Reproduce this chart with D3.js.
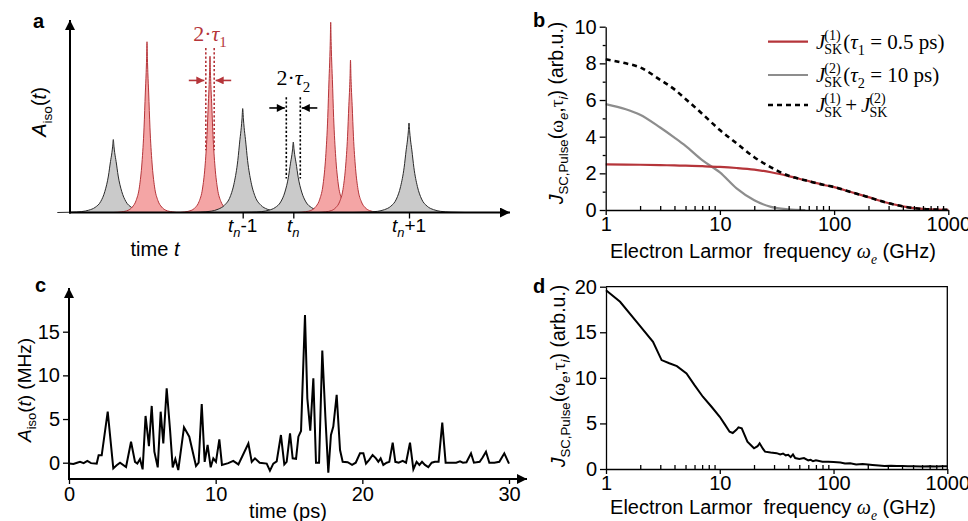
<!DOCTYPE html>
<html lang="en">
<head>
<meta charset="UTF-8">
<script src="https://cdnjs.cloudflare.com/ajax/libs/d3/7.8.5/d3.min.js"></script>
<style>
  body { margin: 0; background: #fff; }
  svg { font-family: "Liberation Sans", Arial, sans-serif; }
  .axis path, .axis line { stroke: #000; stroke-width: 1.3; }
  .axis text { font-size: 20px; fill: #000; font-family: "Liberation Sans", Arial, sans-serif; }
</style>
</head>
<body>
<svg id="fig" width="968" height="521"></svg>
<script>
// ---------- panel a : schematic pulses
const aPeakT    = [43.3, 77, 140, 172.7, 223.3, 260.7, 280.5, 339];
const aPeakH    = [3.79, 8.87, 8.12, 5.4, 3.66, 9.88, 7.92, 4.65];
const aPeakFast = [false, true, true, false, false, true, true, false];
// pulse shape: distance from centre (in tau) -> relative height
const aProfileD = [0, 0.1, 0.2, 0.4, 0.7, 1.2, 1.8, 2.6, 3.5, 4.5, 6, 8];
const aProfileR = [1, 0.9, 0.82, 0.7, 0.5, 0.29, 0.15, 0.07, 0.032, 0.013, 0.004, 0];
const aTickT    = [172.7, 223.3, 339];
const aTickSuf  = ["-1", "", "+1"];
const tauFast = 4.2, tauSlow = 7;

// ---------- panel b : spectral densities
const bFreq  = [1, 1.5, 2, 3, 4, 5, 7, 10, 14, 20, 28, 40, 56, 80, 100, 140, 200, 280, 400, 560, 800, 1000];
const bJ1    = [2.49, 2.48, 2.47, 2.45, 2.43, 2.42, 2.39, 2.35, 2.29, 2.2, 2.06, 1.85, 1.62, 1.38, 1.25, 0.98, 0.7, 0.42, 0.2, 0.07, 0.02, 0.01];
const bFreq2 = [1, 1.5, 2, 3, 4, 5, 7, 10, 14, 20, 28, 40, 56];
const bJ2    = [5.78, 5.5, 5.2, 4.5, 3.95, 3.5, 2.72, 2.05, 1.18, 0.53, 0.17, 0.04, 0.0];
const bSum   = [8.22, 8.0, 7.78, 7.1, 6.58, 6.06, 5.25, 4.36, 3.64, 2.88, 2.33, 1.87, 1.62, 1.38, 1.25, 0.98, 0.7, 0.42, 0.2, 0.07, 0.02, 0.01];

// ---------- panel c : A_iso(t) trajectory
const cTime = [0, 0.3, 0.55, 0.75, 1.0, 1.25, 1.5, 1.89, 2.02, 2.23, 2.64, 3.02, 3.25, 3.48, 3.89, 4.23, 4.5, 4.66, 4.84, 5.02,
  5.22, 5.45, 5.64, 5.82, 6.05, 6.25, 6.43, 6.66, 6.89, 7.07, 7.25, 7.45, 7.84, 8.2, 8.66, 8.84, 9.05, 9.25, 9.45, 9.66,
  9.84, 10.02, 10.25, 10.43, 10.86, 11.2, 11.55, 12.23, 12.46, 12.68, 13.0, 13.48, 13.7, 13.93, 14.16, 14.45, 14.68, 14.84, 15.07, 15.25,
  15.48, 15.64, 15.82, 16.09, 16.25, 16.45, 16.66, 16.84, 17.05, 17.27, 17.48, 17.68, 17.86, 18.02, 18.25, 18.48, 18.66, 19.0, 19.3, 19.55,
  19.84, 20.07, 20.25, 20.48, 20.7, 20.93, 21.09, 21.25, 21.43, 21.66, 21.84, 22.07, 22.25, 22.48, 22.75, 22.98, 23.25, 23.48, 23.7, 23.89,
  24.07, 24.27, 24.5, 24.73, 24.95, 25.2, 25.45, 25.68, 26.0, 26.4, 26.66, 26.86, 27.1, 27.41, 27.61, 28.0, 28.2, 28.43, 28.66, 29.0,
  29.34, 29.68, 30.0];
const cAmp = [-0.1, -0.15, 0.0, 0.1, -0.05, 0.2, -0.05, -0.1, 0.85, 0.85, 5.84, -0.65, -0.3, 0, -0.5, 2.4, 0.1, -0.1, 0.42, -0.76,
  5.35, 1.9, 6.5, 1.26, -0.53, 5.84, 2.2, 8.52, 3.75, -0.53, 0.42, -0.84, 4.05, 2.98, -0.38, 0, 6.72, 0.1, 2.03, -0.53,
  0.5, 0.1, 2.68, -0.26, -0.05, 0.2, -0.2, 2.2, 0.1, 0.5, 0, -0.1, -0.9, -0.1, 0.15, 3.17, -0.2, 0.1, 3.37, 0.5,
  0.45, 2.98, 3.63, 16.9, 7.37, 3.67, 9.66, 0, 0, 12.83, 5.27, -1.14, 3.17, 4.13, 7.76, 1.45, 0.1, 0.05, -0.25, 0,
  1.07, 1.07, -0.1, 0.35, 0.88, 0.5, 0.1, 0.5, -0.25, 0, 0.1, 2.29, 0.1, 0, 0.2, 0, 2.29, -0.76, 0.1, -0.25,
  0.1, -0.25, -0.5, 0, 0.1, 0.1, 4.58, 0, 0, 0, 0.15, 0, 0.05, 1.07, 0, 0.1, 0.6, 1.26, 0, 0,
  0.1, 1.07, -0.1];

// ---------- panel d : spectral density from the trajectory
const dFreq = [1, 1.33, 1.86, 2.59, 3.08, 3.6, 4.2, 5.1, 6, 7.1, 8.5, 10, 11, 12.2, 13, 14, 14.6, 15.6, 17.5, 19,
  20, 21.5, 22.4, 24, 25, 28, 31.6, 34, 36, 38, 40, 42, 44, 46, 50, 55, 60, 63, 66, 70,
  80, 90, 100, 115, 126, 140, 158, 180, 200, 220, 250, 280, 320, 360, 400, 450, 500, 600, 700, 800, 900, 1000];
const dJ = [19.6, 18.35, 16.15, 13.96, 11.95, 11.6, 11.29, 10.49, 9.2, 7.93, 6.8, 5.73, 4.95, 4.09, 3.95, 4.3, 4.57, 4.46, 3.0, 2.55,
  2.27, 2.5, 2.82, 2.2, 1.9, 1.8, 1.74, 1.6, 1.7, 1.5, 1.55, 1.3, 1.6, 1.2, 1.1, 1.2, 0.95, 1.0, 0.85, 0.95,
  0.8, 0.8, 0.77, 0.72, 0.6, 0.62, 0.5, 0.55, 0.5, 0.45, 0.38, 0.33, 0.35, 0.32, 0.33, 0.3, 0.3, 0.28, 0.3, 0.28, 0.3, 0.3];

const RED = "#b5353a", RED_FILL = "#f4a5a5", GRAY = "#8d8d8d";

const svg = d3.select("#fig");
const defs = svg.append("defs");
function arrowMarker(id, color, w, h) {
  defs.append("marker").attr("id", id).attr("viewBox", "0 0 10 10")
    .attr("refX", 10).attr("refY", 5).attr("markerWidth", w).attr("markerHeight", h)
    .attr("markerUnits", "userSpaceOnUse").attr("orient", "auto")
    .append("path").attr("d", "M0,0 L10,5 L0,10 z").attr("fill", color);
}
arrowMarker("axArrow", "#000", 13, 10);
arrowMarker("redArrow", RED, 9, 8);
arrowMarker("blkArrow", "#000", 9, 8);

// rich text: parts = [text, opts]
function rich(sel, parts, size) {
  let shift = 0;
  parts.forEach(([txt, o]) => {
    o = o || {};
    const ts = sel.append("tspan").text(txt);
    let target = 0;
    if (o.sub) { target = size * 0.28; ts.attr("font-size", size * 0.68); }
    if (o.it) ts.attr("font-style", "italic");
    if (o.serif) ts.attr("font-family", "Liberation Serif");
    if (o.dx) ts.attr("dx", o.dx);
    ts.attr("dy", target - shift);
    shift = target;
  });
}
function panelLabel(x, y, t) {
  svg.append("text").attr("x", x).attr("y", y).attr("font-size", 20).attr("font-weight", "bold").text(t);
}

// ================= panel a =================
const xA = d3.scaleLinear().domain([0, 440]).range([70, 510]);
const yA = d3.scaleLinear().domain([0, 10]).range([212.5, 20]);
const gA = svg.append("g");
const areaA = d3.area().x(p => xA(p[0])).y0(yA(0)).y1(p => yA(p[1])).curve(d3.curveMonotoneX);
const lineA = d3.line().x(p => xA(p[0])).y(p => yA(p[1])).curve(d3.curveMonotoneX);
aPeakT.forEach((t0, i) => {
  const tau = aPeakFast[i] ? tauFast : tauSlow;
  const pts = [];
  for (let k = aProfileD.length - 1; k > 0; k--) pts.push([t0 - aProfileD[k] * tau, aProfileR[k] * aPeakH[i]]);
  for (let k = 0; k < aProfileD.length; k++) pts.push([t0 + aProfileD[k] * tau, aProfileR[k] * aPeakH[i]]);
  gA.append("path").attr("d", areaA(pts)).attr("fill", aPeakFast[i] ? RED_FILL : "#cacaca");
  gA.append("path").attr("d", lineA(pts)).attr("fill", "none")
    .attr("stroke", aPeakFast[i] ? RED : "#2a2a2a").attr("stroke-width", 1);
});
// axes with arrows
gA.append("line").attr("x1", xA(0)).attr("x2", xA(0)).attr("y1", yA(0) + 1).attr("y2", yA(10))
  .attr("stroke", "#000").attr("stroke-width", 2).attr("marker-end", "url(#axArrow)");
gA.append("line").attr("x1", xA(0) - 1).attr("x2", xA(440)).attr("y1", yA(0)).attr("y2", yA(0))
  .attr("stroke", "#000").attr("stroke-width", 2).attr("marker-end", "url(#axArrow)");
gA.append("g").attr("class", "axis").attr("transform", `translate(0,${yA(0)})`)
  .call(d3.axisBottom(xA).tickValues(aTickT).tickFormat("").tickSize(6).tickSizeOuter(0))
  .call(g => g.select(".domain").remove())
  .call(g => g.selectAll("line").attr("stroke-width", 2));
aTickT.forEach((t, i) => {
  const tx = gA.append("text").attr("x", xA(t)).attr("y", 232).attr("text-anchor", "middle").attr("font-size", 19);
  rich(tx, [["t", { it: true }], ["n", { sub: true, it: true }], [aTickSuf[i]]], 19);
});
gA.append("text").attr("x", 155).attr("y", 256).attr("text-anchor", "middle").attr("font-size", 20)
  .call(s => rich(s, [["time "], ["t", { it: true }]], 20));
gA.append("text").attr("transform", "translate(46,112) rotate(-90)").attr("text-anchor", "middle").attr("font-size", 20)
  .call(s => rich(s, [["A", { it: true }], ["iso", { sub: true }], ["("], ["t", { it: true }], [")"]], 20));

// tau annotations
function tauMark(t0, tau, yTop, yBot, yArr, yTxt, color, marker, idx) {
  [t0 - tau, t0 + tau].forEach(t => gA.append("line").attr("x1", xA(t)).attr("x2", xA(t))
    .attr("y1", yA(yTop)).attr("y2", yA(yBot)).attr("stroke", color).attr("stroke-width", 1.6)
    .attr("stroke-dasharray", "2.2,2"));
  gA.append("line").attr("x1", xA(t0 - tau - 17)).attr("x2", xA(t0 - tau - 1.5)).attr("y1", yA(yArr)).attr("y2", yA(yArr))
    .attr("stroke", color).attr("stroke-width", 1.6).attr("marker-end", `url(#${marker})`);
  gA.append("line").attr("x1", xA(t0 + tau + 17)).attr("x2", xA(t0 + tau + 1.5)).attr("y1", yA(yArr)).attr("y2", yA(yArr))
    .attr("stroke", color).attr("stroke-width", 1.6).attr("marker-end", `url(#${marker})`);
  const tx = gA.append("text").attr("x", xA(t0)).attr("y", yA(yTxt)).attr("text-anchor", "middle")
    .attr("font-family", "Liberation Serif").attr("font-size", 22).attr("fill", color);
  rich(tx, [["2·"], ["τ", { it: true }], [idx, { sub: true }]], 22);
}
tauMark(aPeakT[2], tauFast, 8.54, 3.23, 6.86, 8.9, RED, "redArrow", "1");
tauMark(aPeakT[4], tauSlow, 5.99, 1.77, 5.43, 6.6, "#000", "blkArrow", "2");
panelLabel(33, 28, "a");

// ================= panel b =================
const xB = d3.scaleLog().domain([1, 1000]).range([605.7, 948.3]);
const yB = d3.scaleLinear().domain([0, 10]).range([210, 26.7]);
const minorLog = [2, 3, 4, 5, 6, 7, 8, 9, 20, 30, 40, 50, 60, 70, 80, 90, 200, 300, 400, 500, 600, 700, 800, 900];
function logAxes(g, xs, ys, yMajor, yMinor) {
  g.append("g").attr("class", "axis").attr("transform", `translate(0,${ys.range()[0]})`)
    .call(d3.axisBottom(xs).tickValues([1, 10, 100, 1000]).tickFormat(d3.format("d")).tickSize(5).tickPadding(2).tickSizeOuter(0));
  g.append("g").attr("class", "axis").attr("transform", `translate(0,${ys.range()[0]})`)
    .call(d3.axisBottom(xs).tickValues(minorLog).tickFormat("").tickSize(-4).tickSizeOuter(0))
    .call(s => s.select(".domain").remove());
  g.append("g").attr("class", "axis").attr("transform", `translate(${xs.range()[0]},0)`)
    .call(d3.axisLeft(ys).tickValues(yMajor).tickSize(6).tickPadding(3).tickSizeOuter(0));
  if (yMinor.length) g.append("g").attr("class", "axis").attr("transform", `translate(${xs.range()[0]},0)`)
    .call(d3.axisLeft(ys).tickValues(yMinor).tickFormat("").tickSize(3).tickSizeOuter(0))
    .call(s => s.select(".domain").remove());
}
function yTitle(x, y) {
  const tx = svg.append("text").attr("transform", `translate(${x},${y}) rotate(-90)`).attr("text-anchor", "middle").attr("font-size", 19.5);
  rich(tx, [["J", { it: true }], ["SC,Pulse", { sub: true }], ["("], ["ω", { serif: true }], ["e", { sub: true, it: true }],
    [","], ["τ", { serif: true }], ["i", { sub: true, it: true }], [") (arb.u.)"]], 19.5);
}
function xTitle(x, y) {
  const tx = svg.append("text").attr("x", x).attr("y", y).attr("text-anchor", "middle").attr("font-size", 20);
  rich(tx, [["Electron Larmor\u00a0 frequency "], ["ω", { serif: true, it: true }], ["e", { sub: true, it: true, serif: true }], [" (GHz)"]], 20);
}
const gB = svg.append("g");
const lineB = d3.line().x(d => xB(d[0])).y(d => yB(d[1])).curve(d3.curveMonotoneX);
gB.append("path").attr("d", lineB(bFreq2.map((f, i) => [f, bJ2[i]]))).attr("fill", "none").attr("stroke", GRAY).attr("stroke-width", 2.2);
gB.append("path").attr("d", lineB(bFreq.map((f, i) => [f, bJ1[i]]))).attr("fill", "none").attr("stroke", RED).attr("stroke-width", 2.2);
gB.append("path").attr("d", lineB(bFreq.map((f, i) => [f, bSum[i]]))).attr("fill", "none").attr("stroke", "#000")
  .attr("stroke-width", 2.6).attr("stroke-dasharray", "5,4");
logAxes(gB, xB, yB, [0, 2, 4, 6, 8, 10], [1, 3, 5, 7, 9]);
yTitle(563, 113);
xTitle(773, 258);
panelLabel(533, 27, "b");

// legend
const legG = svg.append("g").attr("font-family", "Liberation Serif").attr("font-size", 21);
function jsk(x, y, n) {
  const J = legG.append("text").attr("x", x).attr("y", y).attr("font-style", "italic").text("J");
  const w = J.node().getComputedTextLength();
  const sub = legG.append("text").attr("x", x + w - 1).attr("y", y + 5).attr("font-size", 14).text("SK");
  const sup = legG.append("text").attr("x", x + w - 1).attr("y", y - 9).attr("font-size", 14).text("(" + n + ")");
  return x + w - 1 + Math.max(sub.node().getComputedTextLength(), sup.node().getComputedTextLength()) + 1;
}
const legRows = [
  { y: 41.7, stroke: RED, dash: null, build: (x, y) => { const e = jsk(x, y, 1);
      const t = legG.append("text").attr("x", e).attr("y", y); rich(t, [["("], ["τ", { it: true }], ["1", { sub: true }], [" = 0.5 ps)"]], 21); } },
  { y: 75, stroke: GRAY, dash: null, build: (x, y) => { const e = jsk(x, y, 2);
      const t = legG.append("text").attr("x", e).attr("y", y); rich(t, [["("], ["τ", { it: true }], ["2", { sub: true }], [" = 10 ps)"]], 21); } },
  { y: 105, stroke: "#000", dash: "5,4", build: (x, y) => { const e = jsk(x, y, 1);
      const t = legG.append("text").attr("x", e + 2).attr("y", y).text("+");
      jsk(e + 2 + t.node().getComputedTextLength() + 4, y, 2); } }
];
legRows.forEach(r => {
  gB.append("line").attr("x1", 768).attr("x2", 808).attr("y1", r.y).attr("y2", r.y)
    .attr("stroke", r.stroke).attr("stroke-width", r.dash ? 2.6 : 2.2).attr("stroke-dasharray", r.dash);
  r.build(816, r.y + 7);
});

// ================= panel c =================
const xC = d3.scaleLinear().domain([0, 30]).range([69, 509]);
const yC = d3.scaleLinear().domain([0, 15]).range([462.7, 331.7]);
const gC = svg.append("g");
gC.append("path").attr("d", d3.line().x((d, i) => xC(cTime[i])).y(d => yC(d))(cAmp))
  .attr("fill", "none").attr("stroke", "#000").attr("stroke-width", 2).attr("stroke-linejoin", "miter");
gC.append("line").attr("x1", xC(0)).attr("x2", xC(0)).attr("y1", 480).attr("y2", 288)
  .attr("stroke", "#000").attr("stroke-width", 2).attr("marker-end", "url(#axArrow)");
gC.append("line").attr("x1", xC(0) - 1).attr("x2", 527).attr("y1", 479).attr("y2", 479)
  .attr("stroke", "#000").attr("stroke-width", 2).attr("marker-end", "url(#axArrow)");
gC.append("g").attr("class", "axis").attr("transform", "translate(0,479)")
  .call(d3.axisBottom(xC).tickValues([0, 10, 20, 30]).tickSize(5).tickPadding(3).tickSizeOuter(0))
  .call(g => g.select(".domain").remove())
  .call(g => g.selectAll("line").attr("stroke-width", 2));
gC.append("g").attr("class", "axis").attr("transform", `translate(${xC(0)},0)`)
  .call(d3.axisLeft(yC).tickValues([0, 5, 10, 15]).tickSize(6).tickPadding(3).tickSizeOuter(0))
  .call(g => g.select(".domain").remove())
  .call(g => g.selectAll("line").attr("stroke-width", 2));
gC.append("text").attr("x", 288).attr("y", 518).attr("text-anchor", "middle").attr("font-size", 20).text("time (ps)");
gC.append("text").attr("transform", "translate(31,390) rotate(-90)").attr("text-anchor", "middle").attr("font-size", 19)
  .call(s => rich(s, [["A", { it: true }], ["iso", { sub: true }], ["("], ["t", { it: true }], [") (MHz)"]], 19));
panelLabel(35, 292, "c");

// ================= panel d =================
const xD = d3.scaleLog().domain([1, 1000]).range([606, 947.3]);
const yD = d3.scaleLinear().domain([0, 20]).range([469, 286.7]);
const gD = svg.append("g");
gD.append("path").attr("d", d3.line().x((d, i) => xD(dFreq[i])).y(d => yD(d))(dJ))
  .attr("fill", "none").attr("stroke", "#000").attr("stroke-width", 2);
logAxes(gD, xD, yD, [0, 5, 10, 15, 20], []);
gD.append("path").attr("d", `M${xD(1)},${yD(20)}H${xD(1000)}V${yD(0)}`).attr("fill", "none").attr("stroke", "#000").attr("stroke-width", 1.3);
yTitle(565, 376);
xTitle(773, 514);
panelLabel(533, 293, "d");
</script>
</body>
</html>
